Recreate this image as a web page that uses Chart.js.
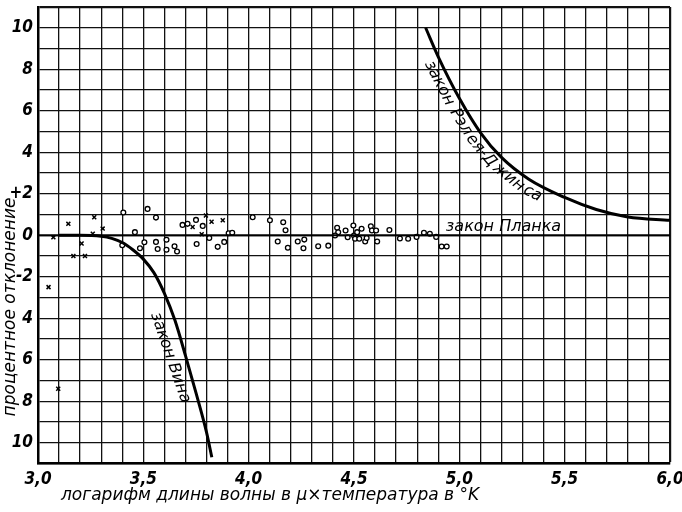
<!DOCTYPE html>
<html>
<head>
<meta charset="utf-8">
<script src="https://cdn.jsdelivr.net/npm/chart.js@4/dist/chart.umd.min.js"></script>
<style>
  html, body { margin: 0; padding: 0; background: #fff; }
  #wrap { width: 682px; height: 512px; position: relative; }
</style>
</head>
<body>
<div id="wrap"><canvas id="chart"></canvas></div>
<script>
// tick labels
const xTickValues = [3.0, 3.5, 4.0, 4.5, 5.0, 5.5, 6.0];
const xTickText = ['3,0', '3,5', '4,0', '4,5', '5,0', '5,5', '6,0'];
const yTickValues = [10, 8, 6, 4, 2, 0, -2, -4, -6, -8, -10];
const yTickText = ['10', '8', '6', '4', '+2', '0', '-2', '4', '6', '8', '10'];

// curves
const wienX = [3.1, 3.2, 3.3, 3.35, 3.4, 3.45, 3.5, 3.55, 3.6, 3.65, 3.7, 3.75, 3.8, 3.825];
const wienY = [0, 0, -0.05, -0.15, -0.35, -0.7, -1.15, -1.8, -2.8, -4.1, -5.8, -7.6, -9.5, -10.7];
const rjX = [4.84, 4.9, 5.0, 5.1, 5.2, 5.33, 5.5, 5.65, 5.8, 6.0];
const rjY = [10, 8.6, 6.6, 4.95, 3.75, 2.7, 1.82, 1.24, 0.88, 0.72];
const planckX = [3.0, 6.0];
const planckY = [0, 0];

// measured points: circles
const circX = [3.405, 3.52, 3.56, 3.46, 3.40, 3.484, 3.505, 3.56, 3.568, 3.61, 3.61, 3.648, 3.66,
  3.686, 3.71, 3.75, 3.782, 3.753, 3.813, 3.853, 3.884, 3.905, 3.922, 4.019, 4.101, 4.164, 4.175,
  4.138, 4.186, 4.233, 4.264, 4.26, 4.33, 4.378, 4.42, 4.425, 4.41, 4.46, 4.47, 4.497, 4.50, 4.505,
  4.525, 4.515, 4.536, 4.553, 4.56, 4.58, 4.585, 4.605, 4.61, 4.668, 4.718, 4.757, 4.797, 4.832,
  4.86, 4.89, 4.916, 4.94];
const circY = [1.1, 1.27, 0.85, 0.15, -0.48, -0.63, -0.34, -0.32, -0.66, -0.22, -0.7, -0.53, -0.78,
  0.5, 0.55, 0.74, 0.45, -0.42, -0.13, -0.56, -0.32, 0.1, 0.12, 0.87, 0.72, 0.63, 0.24,
  -0.3, -0.6, -0.3, -0.21, -0.63, -0.53, -0.5, 0.36, 0.14, -0.01, 0.23, -0.1, 0.47, -0.01, -0.17,
  -0.17, 0.15, 0.31, -0.3, -0.13, 0.43, 0.23, 0.23, -0.3, 0.25, -0.16, -0.17, -0.08, 0.12,
  0.07, -0.08, -0.54, -0.54];
// measured points: crosses
const crossX = [3.05, 3.073, 3.096, 3.144, 3.168, 3.207, 3.223, 3.26, 3.267, 3.307, 3.734, 3.777, 3.797, 3.824, 3.877];
const crossY = [-2.5, -0.1, -7.4, 0.55, -1.0, -0.4, -1.0, 0.07, 0.87, 0.32, 0.4, 0.05, 0.95, 0.65, 0.72];

const xy = (xs, ys) => xs.map((x, i) => ({ x: x, y: ys[i] }));

const FONT = '"DejaVu Sans Condensed", "Liberation Sans Narrow", sans-serif';
const TITLE_FONT = '"DejaVu Sans", sans-serif';

// write text letter by letter along a polyline, shifted to the side by `off` px
function textAlong(c, text, pts, startIdx, off) {
  const seg = [];
  let total = 0;
  for (let i = 0; i < pts.length - 1; i++) {
    const dx = pts[i + 1].x - pts[i].x;
    const dy = pts[i + 1].y - pts[i].y;
    const len = Math.hypot(dx, dy);
    seg.push({ p: pts[i], dx: dx / len, dy: dy / len, len: len, s: total });
    total += len;
  }
  let s = seg[startIdx].s;
  for (const ch of text) {
    const w = c.measureText(ch).width;
    const sm = s + w / 2;
    let k = seg.length - 1;
    for (let i = 0; i < seg.length; i++) {
      if (sm <= seg[i].s + seg[i].len) { k = i; break; }
    }
    const g = seg[k];
    const t = sm - g.s;
    const px = g.p.x + g.dx * t;
    const py = g.p.y + g.dy * t;
    const ang = Math.atan2(g.dy, g.dx);
    c.save();
    c.translate(px - Math.sin(ang) * off, py + Math.cos(ang) * off);
    c.rotate(ang);
    c.fillText(ch, 0, 0);
    c.restore();
    s += w;
  }
}

const textPlugin = {
  id: 'texts',
  afterDraw(chart) {
    const c = chart.ctx;
    const sx = chart.scales.x;
    const sy = chart.scales.y;
    c.save();
    c.fillStyle = '#000';

    // axis titles
    c.font = 'italic 17px ' + TITLE_FONT;
    c.textAlign = 'left';
    c.textBaseline = 'middle';
    c.fillText('логарифм длины волны в μ×температура в °K', chart.chartArea.left + 23, 496);

    c.save();
    c.translate(11, 307);
    c.rotate(-Math.PI / 2);
    c.textAlign = 'center';
    c.fillText('процентное отклонение', 0, 0);
    c.restore();

    // curve names
    c.font = 'italic 16px ' + TITLE_FONT;
    c.textAlign = 'left';
    c.textBaseline = 'alphabetic';
    c.fillText('закон Планка', sx.getPixelForValue(4.936), sy.getPixelForValue(0) - 4);

    c.textAlign = 'center';
    c.textBaseline = 'middle';
    c.save();
    c.translate(sx.getPixelForValue(3.628), sy.getPixelForValue(-5.9));
    c.rotate(71 * Math.PI / 180);
    c.fillText('закон Вина', 0, 0);
    c.restore();

    const rjPts = rjX.map((x, i) => ({ x: sx.getPixelForValue(x), y: sy.getPixelForValue(rjY[i]) }));
    textAlong(c, 'закон Рэлея-Джинса', rjPts, 1, 11);

    c.restore();
  }
};

function tickText(values, texts, v) {
  const i = values.findIndex((t) => Math.abs(t - v) < 1e-6);
  return i >= 0 ? texts[i] : '';
}

new Chart(document.getElementById('chart'), {
  type: 'scatter',
  data: {
    datasets: [
      {
        label: 'закон Планка',
        data: xy(planckX, planckY),
        showLine: true,
        borderColor: '#000',
        borderWidth: 1.8,
        pointRadius: 0,
      },
      {
        label: 'закон Вина',
        data: xy(wienX, wienY),
        showLine: true,
        borderColor: '#000',
        borderWidth: 3,
        pointRadius: 0,
        cubicInterpolationMode: 'monotone',
      },
      {
        label: 'закон Рэлея-Джинса',
        data: xy(rjX, rjY),
        showLine: true,
        borderColor: '#000',
        borderWidth: 3,
        pointRadius: 0,
        cubicInterpolationMode: 'monotone',
      },
      {
        label: 'o',
        data: xy(circX, circY),
        pointStyle: 'circle',
        pointRadius: 2.4,
        borderWidth: 1.3,
        borderColor: '#000',
        backgroundColor: '#fff',
      },
      {
        label: 'x',
        data: xy(crossX, crossY),
        pointStyle: 'crossRot',
        pointRadius: 2.8,
        borderWidth: 1.5,
        borderColor: '#000',
      },
    ],
  },
  options: {
    responsive: true,
    maintainAspectRatio: false,
    animation: false,
    layout: { padding: { top: 7, right: 12, left: 0, bottom: 0 } },
    plugins: { legend: { display: false }, tooltip: { enabled: false } },
    scales: {
      x: {
        type: 'linear',
        min: 3,
        max: 6,
        afterFit: (s) => {
          s.height = 48.5;
          s.paddingLeft = 0;
          s.paddingRight = 0;
        },
        border: { color: '#000', width: 2.5 },
        grid: {
          color: '#111',
          lineWidth: (ctx) => (ctx.tick && Math.abs(ctx.tick.value - 6) < 1e-6 ? 2.2 : 1.3),
          drawTicks: false,
        },
        ticks: {
          stepSize: 0.1,
          maxTicksLimit: 100,
          autoSkip: false,
          maxRotation: 0,
          padding: 6,
          color: '#000',
          font: { family: FONT, size: 17, style: 'italic', weight: 'bold' },
          callback: (v) => tickText(xTickValues, xTickText, v),
        },
      },
      y: {
        min: -11,
        max: 11,
        afterFit: (s) => {
          s.width = 38;
          s.paddingTop = 0;
          s.paddingBottom = 0;
        },
        border: { color: '#000', width: 2.5 },
        grid: {
          color: '#111',
          lineWidth: (ctx) => (ctx.tick && ctx.tick.value === 11 ? 2.2 : 1.3),
          drawTicks: false,
        },
        ticks: {
          stepSize: 1,
          autoSkip: false,
          padding: 5,
          color: '#000',
          font: { family: FONT, size: 17, style: 'italic', weight: 'bold' },
          callback: (v) => tickText(yTickValues, yTickText, v),
        },
      },
    },
  },
  plugins: [textPlugin],
});
</script>
</body>
</html>
